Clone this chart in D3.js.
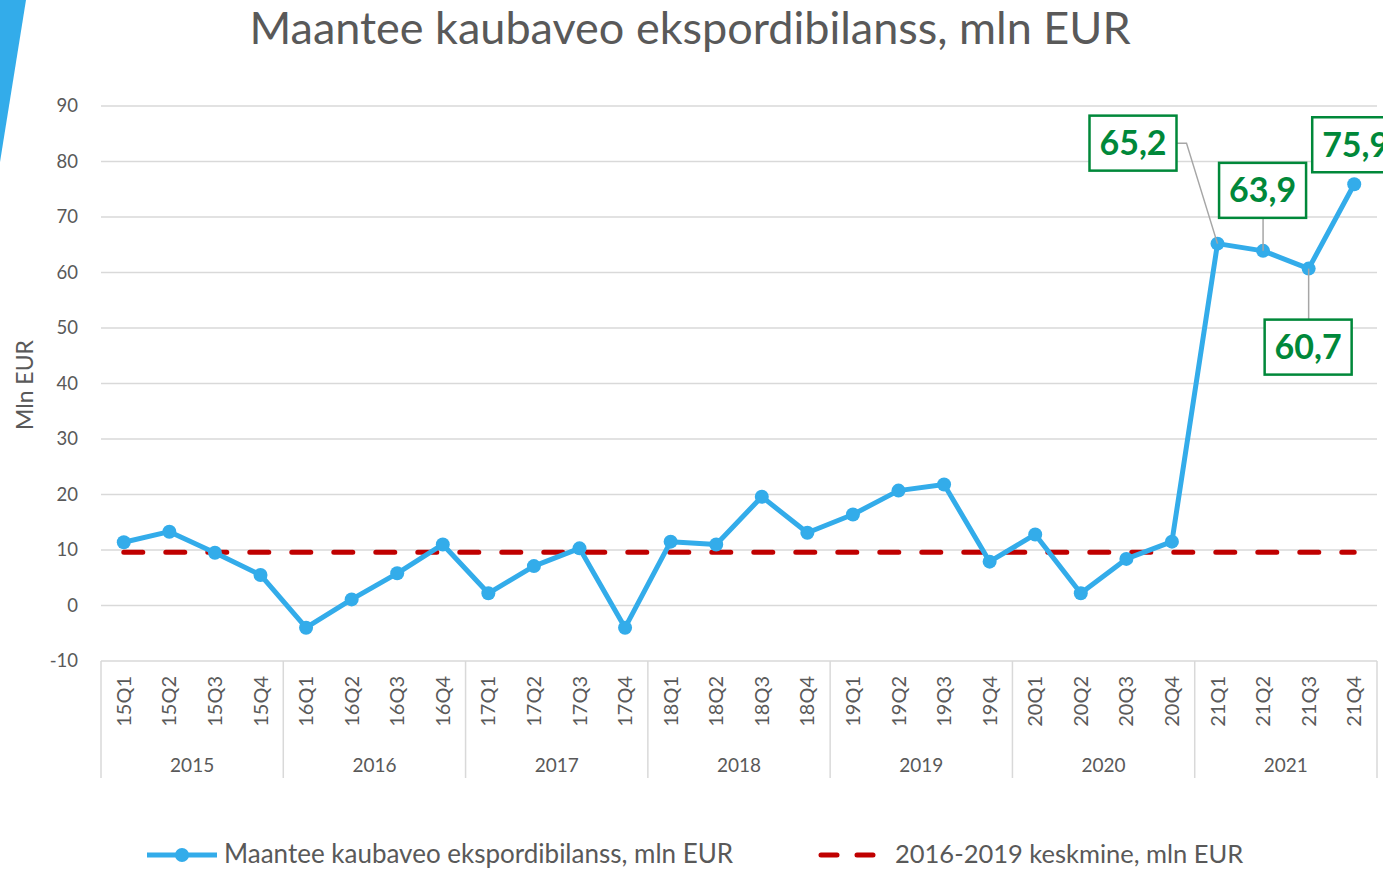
<!DOCTYPE html>
<html>
<head>
<meta charset="utf-8">
<script src="https://cdn.jsdelivr.net/npm/d3@7"></script>
<style>
  body { margin: 0; background: #fff; }
  svg { display: block; font-family: Lato, "Open Sans", sans-serif; }
</style>
</head>
<body>
<svg id="chart" width="1383" height="869"></svg>
<script>
// quarters and yearly groups
const quarters = ['15Q1','15Q2','15Q3','15Q4','16Q1','16Q2','16Q3','16Q4','17Q1','17Q2','17Q3','17Q4',
  '18Q1','18Q2','18Q3','18Q4','19Q1','19Q2','19Q3','19Q4','20Q1','20Q2','20Q3','20Q4',
  '21Q1','21Q2','21Q3','21Q4'];
const years = ['2015','2016','2017','2018','2019','2020','2021'];

// export balance, mln EUR
const balance = [11.4, 13.3, 9.5, 5.5, -4.0, 1.1, 5.8, 11.0, 2.2, 7.1, 10.3, -4.0,
  11.5, 11.0, 19.6, 13.1, 16.4, 20.7, 21.8, 7.9, 12.8, 2.2, 8.4, 11.5,
  65.2, 63.9, 60.7, 75.9];
// 2016-2019 average
const average = [9.6];

const yTicks = [-10, 0, 10, 20, 30, 40, 50, 60, 70, 80, 90];
const labelled = ['21Q1', '21Q2', '21Q3', '21Q4'];

const blue = '#33acea';
const red = '#c00000';
const green = '#00883a';
const grey = '#595959';

const svg = d3.select('#chart');
const plotLeft = 101, plotRight = 1377, plotTop = 106, plotBottom = 661;

// blue corner decoration
svg.append('polygon').attr('points', '0,0 26,0 0,162').attr('fill', blue);

const x = d3.scaleBand().domain(quarters).range([plotLeft, plotRight]);
const y = d3.scaleLinear().domain([-10, 90]).range([plotBottom, plotTop]);
const cx = (q) => x(q) + x.bandwidth() / 2;

// title
svg.append('text')
  .attr('x', 690).attr('y', 44)
  .attr('text-anchor', 'middle')
  .attr('font-size', 45)
  .attr('fill', grey)
  .text('Maantee kaubaveo ekspordibilanss, mln EUR');

// gridlines + y labels
svg.append('g').selectAll('line').data(yTicks).enter().append('line')
  .attr('x1', plotLeft).attr('x2', plotRight)
  .attr('y1', (d) => y(d)).attr('y2', (d) => y(d))
  .attr('stroke', '#d9d9d9').attr('stroke-width', 1.5);

svg.append('g').selectAll('text').data(yTicks).enter().append('text')
  .attr('x', 78).attr('y', (d) => y(d) + 6)
  .attr('text-anchor', 'end')
  .attr('font-size', 18.5)
  .attr('fill', grey)
  .text((d) => d);

svg.append('text')
  .attr('transform', 'translate(33,385) rotate(-90)')
  .attr('text-anchor', 'middle')
  .attr('font-size', 23)
  .attr('fill', grey)
  .text('Mln EUR');

// category axis: quarter labels, year labels, dividers
const axis = svg.append('g');
axis.selectAll('.q').data(quarters).enter().append('text')
  .attr('class', 'q')
  .attr('transform', (d) => `translate(${cx(d) + 7},676) rotate(-90)`)
  .attr('text-anchor', 'end')
  .attr('font-size', 20)
  .attr('fill', grey)
  .text((d) => d);

const yearWidth = x.bandwidth() * 4;
axis.selectAll('.yr').data(years).enter().append('text')
  .attr('class', 'yr')
  .attr('x', (d, i) => plotLeft + yearWidth * (i + 0.5))
  .attr('y', 772)
  .attr('text-anchor', 'middle')
  .attr('font-size', 19)
  .attr('fill', grey)
  .text((d) => d);

axis.selectAll('.div').data(d3.range(years.length + 1)).enter().append('line')
  .attr('class', 'div')
  .attr('x1', (i) => plotLeft + yearWidth * i).attr('x2', (i) => plotLeft + yearWidth * i)
  .attr('y1', plotBottom).attr('y2', 778)
  .attr('stroke', '#d9d9d9').attr('stroke-width', 1.5);

// average line
svg.append('line')
  .attr('x1', cx(quarters[0])).attr('x2', cx(quarters[quarters.length - 1]))
  .attr('y1', y(average[0])).attr('y2', y(average[0]))
  .attr('stroke', red).attr('stroke-width', 5)
  .attr('stroke-dasharray', '19 23').attr('stroke-linecap', 'round');

// main series
const points = quarters.map((q, i) => ({ q, v: balance[i] }));
svg.append('path')
  .datum(points)
  .attr('fill', 'none')
  .attr('stroke', blue)
  .attr('stroke-width', 5)
  .attr('stroke-linejoin', 'round')
  .attr('d', d3.line().x((d) => cx(d.q)).y((d) => y(d.v)));

svg.append('g').selectAll('circle').data(points).enter().append('circle')
  .attr('cx', (d) => cx(d.q)).attr('cy', (d) => y(d.v))
  .attr('r', 7).attr('fill', blue);

// data labels for 2021 (box offsets relative to the point)
const fmt = (v) => v.toFixed(1).replace('.', ',');
const boxes = {
  '21Q1': { dx: -128, dy: -128, leader: 'side' },
  '21Q2': { dx: -44, dy: -88, leader: 'down' },
  '21Q3': { dx: -44, dy: 51, leader: 'up' },
  '21Q4': { dx: -42, dy: -67, leader: 'none' },
};
const bw = 87, bh = 55;
const lab = svg.append('g');
for (const q of labelled) {
  const v = balance[quarters.indexOf(q)];
  const px = cx(q), py = y(v);
  const b = boxes[q];
  const bx = px + b.dx, by = py + b.dy;
  if (b.leader === 'side') {
    lab.append('polyline')
      .attr('points', `${bx + bw},${by + bh / 2} ${bx + bw + 10},${by + bh / 2} ${px},${py}`)
      .attr('fill', 'none').attr('stroke', '#a6a6a6').attr('stroke-width', 1.5);
  } else if (b.leader === 'down') {
    lab.append('line').attr('x1', px).attr('x2', px).attr('y1', by + bh).attr('y2', py)
      .attr('stroke', '#a6a6a6').attr('stroke-width', 1.5);
  } else if (b.leader === 'up') {
    lab.append('line').attr('x1', px).attr('x2', px).attr('y1', by).attr('y2', py)
      .attr('stroke', '#a6a6a6').attr('stroke-width', 1.5);
  }
  lab.append('rect')
    .attr('x', bx).attr('y', by).attr('width', bw).attr('height', bh)
    .attr('fill', '#fff').attr('stroke', green).attr('stroke-width', 2.5);
  lab.append('text')
    .attr('x', bx + bw / 2).attr('y', by + bh / 2 + 12)
    .attr('text-anchor', 'middle')
    .attr('font-size', 34).attr('font-weight', 'bold')
    .attr('fill', green)
    .text(fmt(v));
}

// legend
const leg = svg.append('g');
leg.append('line').attr('x1', 147).attr('x2', 217).attr('y1', 855).attr('y2', 855)
  .attr('stroke', blue).attr('stroke-width', 5);
leg.append('circle').attr('cx', 182).attr('cy', 855).attr('r', 7).attr('fill', blue);
leg.append('text').attr('x', 224).attr('y', 863).attr('font-size', 26).attr('fill', grey)
  .text('Maantee kaubaveo ekspordibilanss, mln EUR');
leg.append('line').attr('x1', 821).attr('x2', 881).attr('y1', 855).attr('y2', 855)
  .attr('stroke', red).attr('stroke-width', 5)
  .attr('stroke-dasharray', '16 20').attr('stroke-linecap', 'round');
leg.append('text').attr('x', 895).attr('y', 863).attr('font-size', 25.5).attr('fill', grey)
  .text('2016-2019 keskmine, mln EUR');
</script>
</body>
</html>
